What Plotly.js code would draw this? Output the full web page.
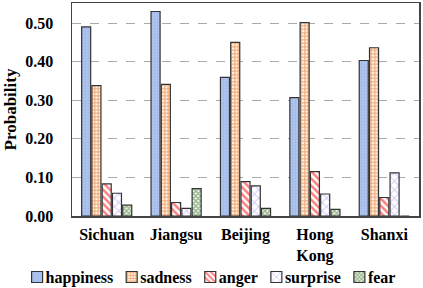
<!DOCTYPE html>
<html><head><meta charset="utf-8">
<script src="https://cdn.plot.ly/plotly-3.0.1.min.js"></script>
<style>html,body{margin:0;padding:0;background:#fff}</style>
</head><body><div id="chart" style="width:423px;height:288px"></div>
<script>
const categories = ["Sichuan", "Jiangsu", "Beijing", "Hong<br>Kong", "Shanxi"];
const happiness = [0.490, 0.530, 0.359, 0.307, 0.403];
const sadness   = [0.338, 0.341, 0.450, 0.501, 0.436];
const anger     = [0.083, 0.035, 0.089, 0.115, 0.048];
const surprise  = [0.059, 0.020, 0.078, 0.057, 0.112];
const fear      = [0.028, 0.071, 0.020, 0.017, 0.000];
const yTicks = [0, 0.1, 0.2, 0.3, 0.4, 0.5];
const yTickText = ["0.00", "0.10", "0.20", "0.30", "0.40", "0.50"];

const line = {color: "#333", width: 1.2};
function tr(name, y, shape, fg, bg, size, sol) {
  return {type: "bar", name: name, x: categories, y: y,
    marker: {color: bg, line: line,
      pattern: {shape: shape, fgcolor: fg, bgcolor: bg, size: size, solidity: sol, fillmode: "overlay"}}};
}
const data = [
  tr("happiness", happiness, ".", "#8fa9dd", "#aec4ee", 3, 0.3),
  tr("sadness", sadness, "+", "#e2680f", "#fff4ea", 3.5, 0.6),
  tr("anger", anger, "\\", "#ff0000", "#ffffff", 5, 0.5),
  tr("surprise", surprise, "x", "#a894f0", "#ffffff", 6, 0.3),
  tr("fear", fear, "x", "#3a7424", "#ffffff", 3.5, 0.7)
];
const ff = "Liberation Serif, Times New Roman, serif";
const layout = {
  width: 423, height: 288,
  margin: {l: 72, r: 4, t: 3, b: 72, autoexpand: false},
  paper_bgcolor: "#fff", plot_bgcolor: "#fff",
  font: {family: ff, color: "#000", size: 16, weight: "bold"},
  barmode: "group", bargap: 0.26, bargroupgap: 0.12,
  xaxis: {showline: true, linecolor: "#444", linewidth: 1.5, mirror: true, ticks: "",
    automargin: false, ticklabelstandoff: 3,
    tickfont: {family: ff, size: 16, weight: "bold", color: "#000"}},
  yaxis: {range: [0, 0.552], tickvals: yTicks, ticktext: yTickText, automargin: false,
    showline: true, linecolor: "#444", linewidth: 1.5, mirror: true,
    showgrid: true, gridcolor: "#aaa", griddash: "dash", gridwidth: 1, zeroline: false,
    ticks: "", ticklabelstandoff: 14,
    tickfont: {family: ff, size: 16, weight: "bold", color: "#000"},
    title: {text: "Probability", font: {family: ff, size: 17, weight: "bold", color: "#000"}, standoff: 4}},
  showlegend: true,
  legend: {orientation: "h", x: 0, xanchor: "left", y: -0.2, yanchor: "top",
    font: {family: ff, size: 16, weight: "bold", color: "#000"},
    itemwidth: 30, traceorder: "normal", bgcolor: "rgba(0,0,0,0)"}
};
Plotly.newPlot("chart", data, layout, {displayModeBar: false, staticPlot: true}).then(function (gd) {
  // compact the legend into one centred row, like the reference
  const leg = gd.querySelector("g.legend");
  if (!leg) return;
  leg.querySelectorAll("[clip-path]").forEach(function (n) { n.removeAttribute("clip-path"); });
  const m = /translate\(([-\d.]+)[ ,]+([-\d.]+)\)/.exec(leg.getAttribute("transform") || "");
  const lx = m ? parseFloat(m[1]) : 0, ly = m ? parseFloat(m[2]) : 0;
  const items = Array.from(leg.querySelectorAll("g.traces"));
  const symW = 11, textGap = 3, itemGap = 13;
  const widths = items.map(function (it) {
    const t = it.querySelector("text.legendtext");
    return t.getBBox().width;
  });
  let total = 0;
  widths.forEach(function (w, i) { total += symW + textGap + w + (i < widths.length - 1 ? itemGap : 0); });
  let x = (423 - total) / 2 + 2;
  const rowY = 277 - ly;
  items.forEach(function (it, i) {
    const sym = it.querySelector("g.legendpoints path");
    if (sym) sym.setAttribute("d", "M5.5,5.5H-5.5V-5.5H5.5Z");
    const t = it.querySelector("text.legendtext");
    const itemX = x - lx - 20 + symW / 2;
    it.setAttribute("transform", "translate(" + itemX + "," + rowY + ")");
    t.setAttribute("x", 20 + symW / 2 + textGap);
    x += symW + textGap + widths[i] + itemGap;
  });
});
</script></body></html>
